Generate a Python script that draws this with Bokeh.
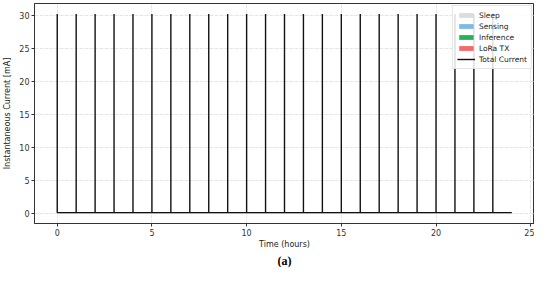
from bokeh.plotting import figure
from bokeh.models import Range1d, Legend, LegendItem, Title, FixedTicker
from bokeh.embed import file_html
from bokeh.resources import INLINE

# ---- data ----
wake_hours = [0, 1, 2, 3, 4, 5, 6, 7, 8, 9, 10, 11, 12, 13, 14, 15, 16, 17, 18, 19, 20, 21, 22, 23]
end_hour = 24
sleep_mA = 0.15
sensing_mA = 8.0
inference_mA = 15.0
lora_mA = 30.2
peak_mA = 30.2
x_ticks = [0, 5, 10, 15, 20, 25]
y_ticks = [0, 5, 10, 15, 20, 25, 30]

# total current path built from the values above
tx, ty = [], []
for h in wake_hours:
    tx += [h, h, h]
    ty += [sleep_mA, peak_mA, sleep_mA]
tx.append(end_hour)
ty.append(sleep_mA)

p = figure(width=534, height=267, output_backend="svg", toolbar_location=None,
           x_range=Range1d(-1.2, 25.2), y_range=Range1d(-1.5, 31.8),
           min_border_left=4, min_border_right=0, min_border_top=3, min_border_bottom=0)

sleep_r = p.varea(x=[0, end_hour], y1=[0, 0], y2=[sleep_mA, sleep_mA], fill_color="#d3d3d3", fill_alpha=0.8)
sens_r = p.vbar(x=wake_hours, width=0.004, bottom=sleep_mA, top=sensing_mA, fill_color="#7db9e0", line_color=None)
inf_r = p.vbar(x=wake_hours, width=0.004, bottom=sensing_mA, top=inference_mA, fill_color="#27b15a", line_color=None)
lora_r = p.vbar(x=wake_hours, width=0.004, bottom=inference_mA, top=lora_mA, fill_color="#f26a6a", line_color=None)
tot_r = p.line(tx, ty, line_color="#111111", line_width=1.4)

legend = Legend(items=[
    LegendItem(label="Sleep", renderers=[sleep_r]),
    LegendItem(label="Sensing", renderers=[sens_r]),
    LegendItem(label="Inference", renderers=[inf_r]),
    LegendItem(label="LoRa TX", renderers=[lora_r]),
    LegendItem(label="Total Current", renderers=[tot_r]),
], location="top_right")
legend.label_text_font = "DejaVu Sans"
legend.label_text_font_size = "7.5px"
legend.label_text_color = "#222222"
legend.label_height = 10
legend.glyph_height = 6
legend.glyph_width = 18
legend.spacing = 1
legend.padding = 4
legend.margin = 2
legend.label_standoff = 4
legend.border_line_color = "#cccccc"
legend.background_fill_alpha = 0.85
p.add_layout(legend)

p.xaxis.ticker = FixedTicker(ticks=x_ticks)
p.yaxis.ticker = FixedTicker(ticks=y_ticks)
p.xaxis.axis_label = "Time (hours)"
p.yaxis.axis_label = "Instantaneous Current [mA]"
for ax in (p.xaxis, p.yaxis):
    ax.axis_label_text_font = "DejaVu Sans"
    ax.axis_label_text_font_style = "normal"
    ax.axis_label_text_font_size = "8px"
    ax.axis_label_text_color = "#222222"
    ax.major_label_text_font = "DejaVu Sans"
    ax.major_label_text_font_size = "8px"
    ax.major_label_text_color = "#333333"
    ax.minor_tick_line_color = None
    ax.major_tick_out = 3
    ax.major_tick_in = 0
    ax.axis_line_color = "#333333"
    ax.major_tick_line_color = "#333333"
    ax.major_label_standoff = 2
p.xaxis.axis_label_standoff = 1
p.yaxis.axis_label_standoff = 4

p.xgrid.ticker = FixedTicker(ticks=x_ticks)
p.ygrid.ticker = FixedTicker(ticks=y_ticks)
p.grid.grid_line_color = "#e6e6e6"
p.grid.grid_line_dash = "4 1"
p.outline_line_color = "#333333"
p.outline_line_alpha = 1

cap = Title(text="(a)", align="center", text_font="Liberation Serif", text_font_size="12px",
            text_font_style="bold", text_color="black", standoff=0)
p.add_layout(cap, "below")

open("out.html", "w").write(file_html(p, INLINE))
